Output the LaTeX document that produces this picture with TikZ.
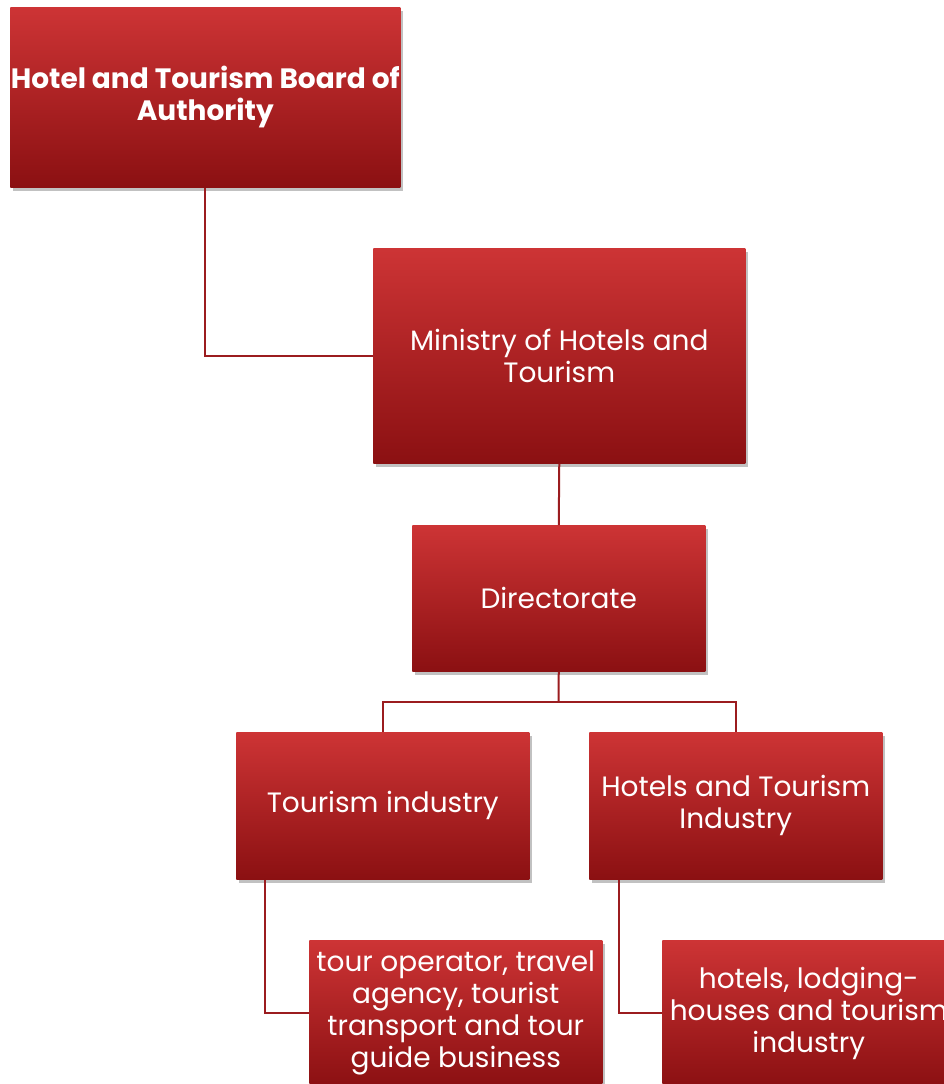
\documentclass[tikz,border=0pt]{standalone}
\usepackage{fontspec}
\setmainfont{Poppins}
\usetikzlibrary{shadows}

\begin{document}
\begin{tikzpicture}[x=0.75pt, y=-0.75pt]
\definecolor{box_top_color}{RGB}{205,52,53}
\definecolor{box_bottom_color}{RGB}{139,16,18}
\definecolor{link_color}{RGB}{155,28,31}

\tikzset{
  orgbox/.style={rectangle, anchor=north west, inner sep=0pt, align=center, text=white,
    top color=box_top_color, bottom color=box_bottom_color,
    drop shadow={shadow xshift=2pt, shadow yshift=-3pt, opacity=0.35, fill=black!70},
    font=\fontsize{21}{24}\selectfont},
  link/.style={draw=link_color, line width=1.5pt}
}

\useasboundingbox (0,0) rectangle (944,1084);
\clip (0,0) rectangle (944,1084);

\node[orgbox, minimum width=292.5pt, minimum height=135pt] (board) at (10,7) {\textbf{Hotel and Tourism Board of}\\\textbf{Authority}};

\node[orgbox, minimum width=279pt, minimum height=161.25pt] (ministry) at (373,248) {Ministry of Hotels and\\Tourism};

\node[orgbox, minimum width=219.75pt, minimum height=109.5pt] (directorate) at (412,525) {Directorate};

\node[orgbox, minimum width=219.75pt, minimum height=110.25pt] (tourism) at (236,732) {Tourism industry};
\node[orgbox, minimum width=219.75pt, minimum height=110.25pt] (hotels) at (589,732) {Hotels and Tourism\\Industry};

\node[orgbox, minimum width=219.75pt, minimum height=109.5pt] (tour) at (309,940) {tour operator, travel\\agency, tourist\\transport and tour\\guide business};
\node[orgbox, minimum width=219.75pt, minimum height=109.5pt] (lodging) at (662,940) {hotels, lodging-\\houses and tourism\\industry};

% connectors
\coordinate (split) at (558.5,702);

\draw[link] (board.south) |- (ministry.west);
\draw[link] (ministry.south) -- (directorate.north);
\draw[link] (directorate.south) -- (split);
\draw[link] (tourism.north) |- (split) -| (hotels.north);
\draw[link] ([xshift=21.75pt]tourism.south west) |- (tour.west);
\draw[link] ([xshift=22.5pt]hotels.south west) |- (lodging.west);

\end{tikzpicture}
\end{document}
